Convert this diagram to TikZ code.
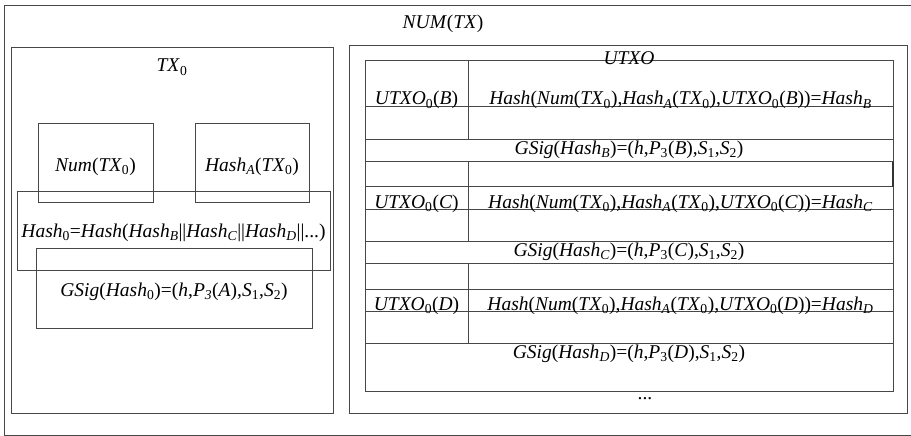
\documentclass[tikz,border=0pt]{standalone}
\usepackage{fontspec}
\setmainfont{Liberation Serif}
\newcommand\I[1]{\textit{#1}}
\newcommand\sbi[1]{\textsubscript{\textit{#1}}}
\newcommand\sbu[1]{\textsubscript{#1}}
\newcommand\mytx{\I{TX}\sbu{0}}
\tikzset{
  ln/.style={draw=black!72, line width=0.8pt},
  lbl/.style={font=\fontsize{19.5}{23}\selectfont, inner sep=0pt, anchor=base},
}
\begin{document}
\begin{tikzpicture}[x=1pt,y=-1pt]
\useasboundingbox (0,0) rectangle (911,436);
\fill[white] (0,0) rectangle (911,436);
% outer frame
\draw[ln] (4,5) rectangle (915,435);
\node[lbl] (num) at (443,29) {\I{NUM}(\I{TX})};
% left block
\draw[ln] (11,47) rectangle (333,413);
\node[lbl] (tx0) at (172,72) {\mytx};
\draw[ln] (38,123) rectangle (153,202);
\node[lbl] (numtx) at (95.5,171) {\I{Num}(\mytx)};
\draw[ln] (195,123) rectangle (309,202);
\node[lbl] (hashatx) at (252,171) {\I{Hash}\sbi{A}(\mytx)};
\draw[ln] (17,191) rectangle (330,270);
\node[lbl] (hash0) at (173.5,237) {\I{Hash}\sbu{0}=\I{Hash}(\I{Hash}\sbi{B}||\I{Hash}\sbi{C}||\I{Hash}\sbi{D}||...)};
\draw[ln] (36,248) rectangle (312,328);
\node[lbl] (gsig0) at (174,296) {\I{GSig}(\I{Hash}\sbu{0})=(\I{h},\I{P}\sbi{3}(\I{A}),\I{S}\sbu{1},\I{S}\sbu{2})};
% right block
\draw[ln] (349,45) rectangle (907,413);
% table frame
\draw[ln] (365,60) rectangle (893,391);
\foreach \yy in {106.7,139.3,161.7,186.7,209.3,241.7,263.3,289,311,343.3}
  \draw[ln] (365,\yy) -- (893,\yy);
\draw[ln] (468,60) -- (468,139.3);
\draw[ln] (468,161.7) -- (468,241.7);
\draw[ln] (468,263.3) -- (468,343.3);
\draw[draw=black!80, line width=1.6pt] (893,161.7) -- (893,186.7);
\node[lbl] (utxo) at (629,65) {\I{UTXO}};
\node[lbl] (ub) at (416.5,105) {\I{UTXO}\sbu{0}(\I{B})};
\node[lbl] (hb) at (680.5,105) {\I{Hash}(\I{Num}(\mytx),\I{Hash}\sbi{A}(\mytx),\I{UTXO}\sbu{0}(\I{B}))=\I{Hash}\sbi{B}};
\node[lbl] (gb) at (629,154) {\I{GSig}(\I{Hash}\sbi{B})=(\I{h},\I{P}\sbu{3}(\I{B}),\I{S}\sbu{1},\I{S}\sbu{2})};
\node[lbl] (uc) at (416.5,208) {\I{UTXO}\sbu{0}(\I{C})};
\node[lbl] (hc) at (680.5,208) {\I{Hash}(\I{Num}(\mytx),\I{Hash}\sbi{A}(\mytx),\I{UTXO}\sbu{0}(\I{C}))=\I{Hash}\sbi{C}};
\node[lbl] (gc) at (629,256) {\I{GSig}(\I{Hash}\sbi{C})=(\I{h},\I{P}\sbu{3}(\I{C}),\I{S}\sbu{1},\I{S}\sbu{2})};
\node[lbl] (ud) at (416.5,310) {\I{UTXO}\sbu{0}(\I{D})};
\node[lbl] (hd) at (680.5,310) {\I{Hash}(\I{Num}(\mytx),\I{Hash}\sbi{A}(\mytx),\I{UTXO}\sbu{0}(\I{D}))=\I{Hash}\sbi{D}};
\node[lbl] (gd) at (629,358) {\I{GSig}(\I{Hash}\sbi{D})=(\I{h},\I{P}\sbu{3}(\I{D}),\I{S}\sbu{1},\I{S}\sbu{2})};
\node[lbl] (dots) at (645,399) {...};
\end{tikzpicture}
\end{document}
